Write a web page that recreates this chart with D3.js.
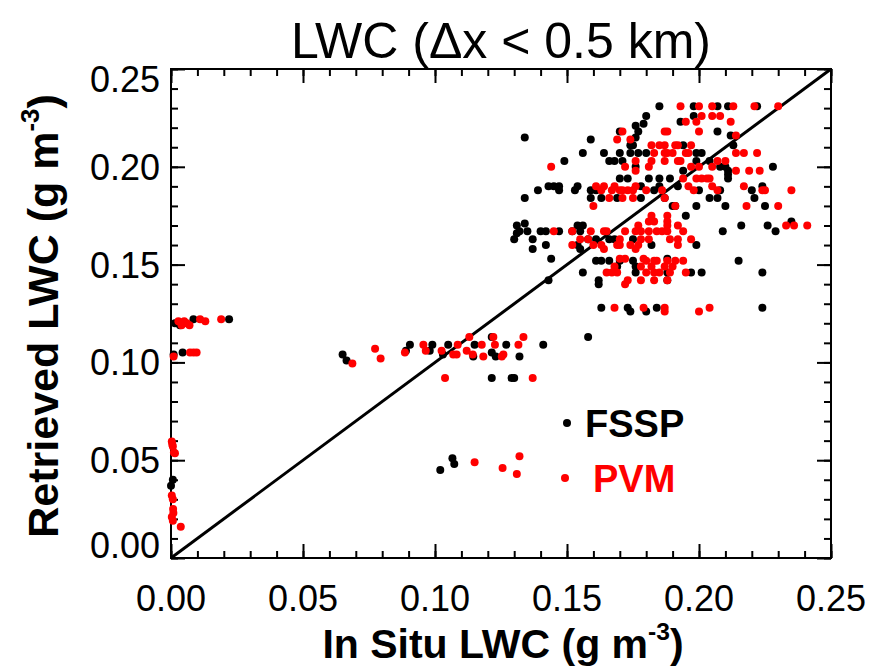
<!DOCTYPE html>
<html>
<head>
<meta charset="utf-8">
<script src="https://cdn.jsdelivr.net/npm/d3@7"></script>
<style>
  body { margin: 0; background: #fff; }
  text { font-family: "Liberation Sans", Arial, Helvetica, sans-serif; }
</style>
</head>
<body>
<svg id="chart" width="874" height="666"></svg>
<script>
// tick values (g m^-3)
const majorTicks = [0, 0.05, 0.10, 0.15, 0.20, 0.25];
const minorTicks = d3.range(0, 0.2501, 0.01);

// FSSP retrievals [in situ, retrieved]
const fsspPoints = [
  [0.185,0.231],[0.198,0.231],[0.207,0.231],[0.211,0.231],[0.222,0.231],
  [0.180,0.226],[0.198,0.226],[0.193,0.223],[0.179,0.222],[0.176,0.221],
  [0.170,0.218],[0.177,0.218],[0.207,0.218],[0.212,0.216],
  [0.134,0.215],[0.159,0.214],[0.176,0.215],
  [0.174,0.211],[0.175,0.211],[0.194,0.211],[0.213,0.211],
  [0.156,0.207],[0.164,0.207],[0.170,0.207],[0.174,0.207],[0.177,0.207],[0.180,0.207],[0.199,0.207],[0.201,0.207],
  [0.149,0.203],[0.166,0.203],[0.168,0.203],[0.171,0.203],[0.199,0.203],[0.204,0.203],
  [0.176,0.200],[0.208,0.200],[0.210,0.200],[0.228,0.200],
  [0.194,0.198],[0.211,0.198],[0.211,0.196],
  [0.170,0.194],[0.173,0.194],[0.181,0.194],[0.185,0.194],[0.189,0.194],[0.211,0.194],
  [0.143,0.190],[0.145,0.190],[0.147,0.190],[0.154,0.190],[0.178,0.190],[0.185,0.190],[0.192,0.190],[0.224,0.190],
  [0.139,0.188],[0.147,0.188],[0.153,0.188],[0.159,0.188],[0.161,0.188],[0.183,0.188],[0.200,0.188],[0.208,0.188],[0.220,0.188],
  [0.134,0.184],[0.159,0.184],[0.163,0.184],[0.169,0.184],[0.178,0.184],[0.187,0.184],[0.204,0.184],[0.207,0.184],[0.221,0.184],
  [0.190,0.180],[0.191,0.180],[0.199,0.180],[0.210,0.180],[0.225,0.180],
  [0.195,0.175],[0.235,0.172],[0.134,0.171],
  [0.154,0.170],[0.156,0.170],[0.216,0.170],[0.226,0.170],
  [0.132,0.167],[0.135,0.167],[0.140,0.167],[0.142,0.167],[0.147,0.167],[0.152,0.167],[0.155,0.167],[0.209,0.167],[0.229,0.167],
  [0.137,0.163],[0.158,0.163],[0.161,0.163],[0.166,0.163],[0.168,0.163],[0.175,0.163],
  [0.142,0.160],[0.154,0.160],[0.182,0.160],[0.199,0.160],
  [0.137,0.158],[0.155,0.158],[0.144,0.153],[0.188,0.153],
  [0.161,0.152],[0.163,0.152],[0.166,0.152],[0.170,0.152],[0.175,0.152],[0.215,0.152],
  [0.169,0.149],[0.176,0.149],
  [0.156,0.146],[0.176,0.146],[0.188,0.146],[0.197,0.146],[0.201,0.146],[0.224,0.146],
  [0.143,0.142],[0.162,0.142],[0.188,0.142],[0.162,0.140],
  [0.163,0.128],[0.173,0.128],[0.184,0.128],[0.224,0.128],[0.174,0.126],[0.180,0.126],
  [0.131,0.170],[0.131,0.166],[0.130,0.163],[0.158,0.113],
  [0.0015,0.120],[0.0034,0.119],[0.0085,0.122],[0.022,0.122],[0.001,0.104],[0.0044,0.105],
  [0.065,0.104],[0.0665,0.101],[0.089,0.106],[0.0905,0.109],[0.098,0.106],[0.099,0.109],
  [0.103,0.104],[0.105,0.109],[0.1145,0.103],[0.115,0.109],[0.1215,0.113],[0.1215,0.105],
  [0.123,0.103],[0.127,0.109],[0.132,0.103],[0.141,0.109],[0.1215,0.092],[0.129,0.092],[0.130,0.092],
  [0.102,0.045],[0.1066,0.051],[0.1073,0.048],
  [0.0007,0.040],[0.0000,0.037]
];

// PVM retrievals [in situ, retrieved]
const pvmPoints = [
  [0.193,0.231],[0.200,0.231],[0.205,0.231],[0.213,0.231],[0.221,0.231],[0.230,0.231],
  [0.201,0.226],[0.205,0.226],[0.208,0.226],
  [0.195,0.223],[0.199,0.223],[0.212,0.223],
  [0.171,0.218],[0.187,0.218],[0.188,0.218],[0.200,0.218],[0.214,0.216],
  [0.169,0.214],[0.174,0.214],
  [0.182,0.211],[0.185,0.211],[0.187,0.211],[0.191,0.211],[0.192,0.211],[0.197,0.211],
  [0.183,0.207],[0.187,0.207],[0.188,0.207],[0.190,0.207],[0.195,0.207],[0.196,0.207],[0.214,0.207],[0.217,0.207],[0.222,0.207],
  [0.176,0.203],[0.182,0.203],[0.187,0.203],[0.192,0.203],[0.193,0.203],[0.207,0.203],[0.210,0.203],
  [0.144,0.200],[0.172,0.200],[0.181,0.200],[0.197,0.200],[0.200,0.200],[0.205,0.200],
  [0.214,0.198],[0.219,0.198],[0.223,0.198],[0.176,0.198],
  [0.194,0.194],[0.199,0.194],[0.201,0.194],[0.203,0.194],[0.204,0.194],
  [0.161,0.190],[0.164,0.190],[0.168,0.190],[0.176,0.190],[0.196,0.190],[0.205,0.190],[0.217,0.190],
  [0.163,0.188],[0.167,0.188],[0.170,0.188],[0.171,0.188],[0.173,0.188],[0.175,0.188],[0.180,0.188],
  [0.186,0.188],[0.198,0.188],[0.207,0.188],[0.224,0.188],[0.225,0.188],[0.235,0.188],
  [0.166,0.184],[0.171,0.184],[0.175,0.184],[0.187,0.184],
  [0.160,0.180],[0.191,0.180],[0.218,0.180],[0.230,0.180],
  [0.182,0.175],[0.188,0.175],[0.181,0.172],[0.183,0.172],[0.188,0.172],
  [0.177,0.170],[0.188,0.170],[0.192,0.170],[0.233,0.170],[0.236,0.170],[0.241,0.170],
  [0.145,0.167],[0.152,0.167],[0.159,0.167],[0.164,0.167],[0.165,0.167],[0.172,0.167],[0.176,0.167],
  [0.178,0.167],[0.181,0.167],[0.184,0.167],[0.186,0.167],[0.188,0.167],[0.194,0.167],
  [0.155,0.163],[0.158,0.163],[0.170,0.163],[0.178,0.163],[0.181,0.163],[0.189,0.163],[0.192,0.163],[0.197,0.163],
  [0.152,0.160],[0.160,0.160],[0.163,0.160],[0.169,0.160],[0.170,0.160],[0.174,0.160],[0.177,0.160],[0.192,0.160],
  [0.164,0.158],[0.176,0.158],[0.170,0.153],[0.172,0.153],[0.179,0.153],
  [0.180,0.152],[0.183,0.152],[0.184,0.152],[0.188,0.152],[0.191,0.152],[0.194,0.152],
  [0.168,0.149],[0.178,0.149],[0.182,0.149],[0.187,0.149],[0.190,0.149],
  [0.165,0.146],[0.167,0.146],[0.169,0.146],[0.180,0.146],[0.183,0.146],[0.185,0.146],[0.189,0.146],[0.195,0.146],
  [0.173,0.142],[0.178,0.142],[0.183,0.142],[0.188,0.142],[0.172,0.140],
  [0.168,0.128],[0.179,0.128],[0.187,0.128],[0.204,0.128],[0.187,0.126],[0.200,0.126],
  [0.0028,0.121],[0.004,0.119],[0.005,0.121],[0.006,0.120],[0.007,0.119],[0.011,0.122],
  [0.013,0.121],[0.019,0.122],[0.001,0.103],[0.0072,0.105],[0.0085,0.105],[0.0097,0.105],
  [0.0687,0.0995],[0.0773,0.107],[0.0794,0.102],[0.0886,0.105],[0.0956,0.109],[0.0965,0.106],
  [0.1025,0.106],[0.1038,0.092],[0.1069,0.104],[0.1082,0.104],[0.1086,0.109],[0.1120,0.106],
  [0.1130,0.113],[0.1143,0.104],[0.1177,0.109],[0.1183,0.103],[0.1221,0.113],[0.1227,0.109],
  [0.1253,0.103],[0.1259,0.104],[0.1316,0.109],[0.1335,0.113],[0.1370,0.092],
  [0.115,0.049],[0.1256,0.046],[0.131,0.043],[0.132,0.052],
  [0.0003,0.0595],[0.0007,0.057],[0.0011,0.054],[0.0015,0.0535],[0.0003,0.032],[0.0007,0.030],
  [0.0009,0.023],[0.0003,0.021],[0.0007,0.019],[0.0037,0.016],[0.0005,0.058],[0.0008,0.025]
];

const series = [
  {name: 'FSSP', color: '#000', points: fsspPoints},
  {name: 'PVM', color: '#ff0000', points: pvmPoints}
];

const svg = d3.select('#chart');
const plotLeft = 171, plotRight = 831, plotTop = 69, plotBottom = 558;

const x = d3.scaleLinear().domain([0, 0.25]).range([plotLeft, plotRight]);
const y = d3.scaleLinear().domain([0, 0.25]).range([plotBottom, plotTop]);
const fmt = d3.format('.2f');

// frame
svg.append('rect')
  .attr('x', plotLeft).attr('y', plotTop)
  .attr('width', plotRight - plotLeft).attr('height', plotBottom - plotTop)
  .attr('fill', 'none').attr('stroke', '#000').attr('stroke-width', 2);

// inward ticks on all four sides (IDL style)
function styleAxis(g) {
  g.select('.domain').remove();
  g.selectAll('line').attr('stroke', '#000').attr('stroke-width', 2);
}

const axes = [
  {gen: () => d3.axisBottom(x), at: `translate(0,${plotBottom})`},
  {gen: () => d3.axisTop(x), at: `translate(0,${plotTop})`},
  {gen: () => d3.axisLeft(y), at: `translate(${plotLeft},0)`},
  {gen: () => d3.axisRight(y), at: `translate(${plotRight},0)`}
];
axes.forEach(a => {
  svg.append('g').attr('transform', a.at)
    .call(a.gen().tickValues(minorTicks).tickSize(-7).tickFormat(''))
    .call(styleAxis);
  svg.append('g').attr('transform', a.at)
    .call(a.gen().tickValues(majorTicks).tickSize(-14).tickFormat(''))
    .call(styleAxis);
});

// tick labels
svg.append('g').selectAll('text')
  .data(majorTicks).enter().append('text')
  .attr('x', d => x(d)).attr('y', 611)
  .attr('text-anchor', 'middle')
  .attr('font-size', 36)
  .text(fmt);

// end labels of the y axis sit just inside the frame
svg.append('g').selectAll('text')
  .data(majorTicks).enter().append('text')
  .attr('x', 160)
  .attr('y', d => Math.min(Math.max(y(d), plotTop + 10), plotBottom - 13))
  .attr('dy', '0.36em')
  .attr('text-anchor', 'end')
  .attr('font-size', 36)
  .text(fmt);

// 1:1 line
svg.append('line')
  .attr('x1', x(0)).attr('y1', y(0))
  .attr('x2', x(0.25)).attr('y2', y(0.25))
  .attr('stroke', '#000').attr('stroke-width', 3);

// points
series.forEach(s => {
  svg.append('g').selectAll('circle')
    .data(s.points).enter().append('circle')
    .attr('cx', d => x(d[0]))
    .attr('cy', d => y(d[1]))
    .attr('r', 4)
    .attr('fill', s.color);
});

// legend
const legend = [
  {name: 'FSSP', color: '#000', dotX: 567, dotY: 423, textX: 585, baseY: 437},
  {name: 'PVM', color: '#ff0000', dotX: 565, dotY: 478, textX: 593, baseY: 492}
];
legend.forEach(l => {
  svg.append('circle').attr('cx', l.dotX).attr('cy', l.dotY).attr('r', 4).attr('fill', l.color);
  svg.append('text').attr('x', l.textX).attr('y', l.baseY)
    .attr('font-size', 38).attr('font-weight', 'bold').attr('fill', l.color)
    .text(l.name);
});

// title
svg.append('text')
  .attr('x', 501).attr('y', 58)
  .attr('text-anchor', 'middle')
  .attr('font-size', 50)
  .text('LWC (\u0394x < 0.5 km)');

// axis titles with superscript
function unitLabel(sel, main) {
  sel.append('tspan').text(main + ' (g m');
  sel.append('tspan').attr('font-size', '0.6em').attr('dy', '-0.75em').text('-3');
  sel.append('tspan').attr('dy', '0.45em').text(')');
}

svg.append('text')
  .attr('x', 503).attr('y', 658)
  .attr('text-anchor', 'middle')
  .attr('font-size', 41).attr('font-weight', 'bold')
  .call(unitLabel, 'In Situ LWC');

svg.append('text')
  .attr('transform', 'translate(58,316) rotate(-90)')
  .attr('text-anchor', 'middle')
  .attr('font-size', 43).attr('font-weight', 'bold')
  .call(unitLabel, 'Retrieved LWC');
</script>
</body>
</html>
